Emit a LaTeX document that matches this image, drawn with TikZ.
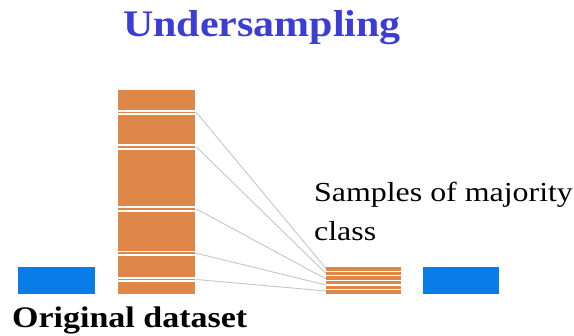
\documentclass[tikz,border=0pt]{standalone}
\usepackage{fontspec}
\usepackage{graphicx}
\setmainfont{Liberation Serif}
\definecolor{majority}{RGB}{222,135,72}
\definecolor{minority}{RGB}{10,124,232}
\definecolor{titleblue}{RGB}{60,60,215}
\definecolor{linkgray}{RGB}{196,199,202}
\tikzset{
  block/.style={fill=#1, draw=none, inner sep=0pt, anchor=north west},
  gap/.style={white, line width=1.7pt},
  link/.style={linkgray, line width=0.9pt},
  label/.style={inner sep=0pt, anchor=base west},
}
\begin{document}
\begin{tikzpicture}[x=1pt,y=-1pt]
\useasboundingbox (0,0) rectangle (574,336);
\fill[white] (0,0) rectangle (574,336);

% title
\node[label, text=titleblue, font=\fontsize{37.5}{40}\selectfont\bfseries] (title) at (123,36.5)
  {\scalebox{1.12}[1]{Undersampling}};

% original dataset: minority block and majority bar
\node[block=minority, minimum width=77pt, minimum height=27pt] (minL) at (18,267) {};
\node[block=majority, minimum width=77pt, minimum height=204pt] (bar) at (118,90) {};

% sampled rows inside the majority bar
\foreach \c [count=\i] in {112.5,147,209,253.3,279.5} {
  \draw[gap] (bar.west |- 0,\c-1.7) -- ([xshift=1pt]bar.east |- 0,\c-1.7);
  \draw[gap] (bar.west |- 0,\c+1.7) -- ([xshift=1pt]bar.east |- 0,\c+1.7);
  \coordinate (b\i) at ([xshift=1pt]bar.east |- 0,\c);
}

% undersampled majority stack and minority block
\node[block=majority, minimum width=75pt, minimum height=27pt] (stack) at (326,267) {};
\foreach \c in {271.2,275.8,280.4,285,289.6} {
  \draw[white, line width=1.3pt] (stack.west |- 0,\c) -- (stack.east |- 0,\c);
}
\node[block=minority, minimum width=76pt, minimum height=27pt] (minR) at (423,267) {};

% links from sampled rows to the stack
\foreach \e [count=\i] in {268.5,273.5,279,285,291} {
  \coordinate (e\i) at (stack.west |- 0,\e);
  \draw[link] (b\i) -- (e\i);
}

% labels
\node[label, font=\fontsize{27.5}{39}\selectfont] (samples) at (314,201.5)
  {\scalebox{1.16}[1]{Samples of majority}};
\node[label, font=\fontsize{27.5}{39}\selectfont] (class) at (314,240.5)
  {\scalebox{1.16}[1]{class}};
\node[label, font=\fontsize{29.8}{32}\selectfont\bfseries] (orig) at (12,327.5)
  {\scalebox{1.14}[1]{Original dataset}};
\end{tikzpicture}
\end{document}
